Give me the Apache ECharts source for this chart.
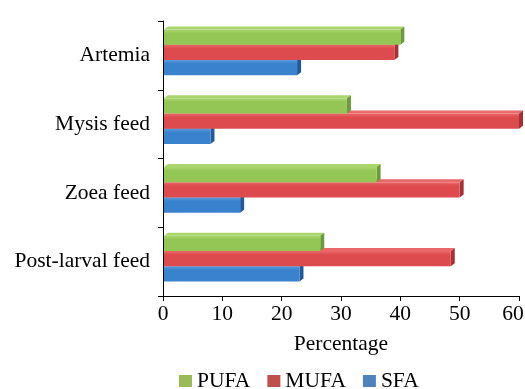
<!DOCTYPE html>
<html>
<head>
<meta charset="utf-8">
<script src="https://cdn.jsdelivr.net/npm/echarts@6/dist/echarts.min.js"></script>
<style>
  html, body { margin: 0; padding: 0; background: #fff; overflow: hidden; }
  #chart { width: 525px; height: 389px; }
</style>
</head>
<body>
<div id="chart"></div>
<script>
// Feed types, top to bottom on the chart
const categories = ['Artemia', 'Mysis feed', 'Zoea feed', 'Post-larval feed'];
const seriesNames = ['PUFA', 'MUFA', 'SFA'];
// Fatty acid composition (%), one value per feed type
const pufa = [40, 31, 36, 26.5];
const mufa = [39, 60, 50, 48.5];
const sfa  = [22.6, 8, 13, 23];
const xTicks = [0, 10, 20, 30, 40, 50, 60];

const values = [pufa, mufa, sfa];

// Face colours for each series: legend swatch, front, top, side
const palette = [
  { legend: '#9bbb59', front: '#94c656', top: '#aad66e', side: '#6d9a3a' },
  { legend: '#c0504d', front: '#dd4b4e', top: '#e9696b', side: '#a63236' },
  { legend: '#4f81bd', front: '#3a82cd', top: '#5a9ada', side: '#23599a' }
];

const chart = echarts.init(document.getElementById('chart'), null, { renderer: 'canvas', width: 525, height: 389 });

const DX = 4, DY = 3;

function makeRender(si) {
  const c = palette[si];
  return function (params, api) {
    const cat = api.value(1);
    const v = api.value(0);
    const start = api.coord([0, cat]);
    const end = api.coord([v, cat]);
    const band = api.size([0, 1])[1];
    const t = band * 0.222;
    const y0 = start[1] - 1.5 * t - 3 + si * t;
    const x0 = start[0] + 1;
    const x1 = end[0];
    return {
      type: 'group',
      children: [
        {
          type: 'polygon',
          shape: { points: [[x0, y0], [x0 + DX, y0 - DY], [x1 + DX, y0 - DY], [x1, y0]] },
          style: { fill: c.top }
        },
        {
          type: 'polygon',
          shape: { points: [[x1, y0], [x1 + DX, y0 - DY], [x1 + DX, y0 + t - DY], [x1, y0 + t]] },
          style: { fill: c.side }
        },
        {
          type: 'rect',
          shape: { x: x0, y: y0, width: x1 - x0, height: t },
          style: {
            fill: new echarts.graphic.LinearGradient(0, 0, 0, 1, [
              { offset: 0, color: c.top },
              { offset: 0.25, color: c.front },
              { offset: 1, color: c.front }
            ])
          }
        }
      ]
    };
  };
}

const series = seriesNames.map(function (name, si) {
  return {
    name: name,
    type: 'custom',
    renderItem: makeRender(si),
    encode: { x: 0, y: 1 },
    itemStyle: { color: palette[si].legend },
    z: 5 - si,
    data: values[si].map(function (v, i) { return [v, i]; })
  };
});

const font = 'Liberation Serif';
const fs = 21.5;
const xMax = xTicks[xTicks.length - 1];

chart.setOption({
  animation: false,
  backgroundColor: '#ffffff',
  grid: { left: 163, right: 6, top: 21, bottom: 93, outerBoundsMode: 'none', containLabel: false },
  xAxis: {
    type: 'value',
    min: xTicks[0],
    max: xMax,
    interval: 10,
    name: 'Percentage',
    nameLocation: 'middle',
    nameGap: 37,
    nameTextStyle: { fontFamily: font, fontSize: fs, color: '#000' },
    axisLine: { show: true, lineStyle: { color: '#000', width: 1 } },
    axisTick: { show: true, length: 5, lineStyle: { color: '#000' } },
    axisLabel: {
      fontFamily: font, fontSize: fs, color: '#000', margin: 7,
      // the last label is nudged left so it stays inside the canvas
      formatter: function (v) { return v === xMax ? '{last|' + v + '}' : String(v); },
      rich: { last: { fontFamily: font, fontSize: fs, color: '#000', padding: [0, 12, 0, 0] } }
    },
    splitLine: { show: false }
  },
  yAxis: {
    type: 'category',
    data: categories,
    inverse: true,
    axisLine: { show: true, lineStyle: { color: '#000', width: 1 } },
    axisTick: { show: true, length: 5, lineStyle: { color: '#000' } },
    axisLabel: { fontFamily: font, fontSize: fs, color: '#000', margin: 13 },
    splitLine: { show: false }
  },
  legend: {
    data: seriesNames,
    left: 179,
    top: 370,
    padding: 0,
    icon: 'rect',
    itemWidth: 13,
    itemHeight: 12,
    itemGap: 17,
    textStyle: { fontFamily: font, fontSize: fs, color: '#000' }
  },
  series: series
});
</script>
</body>
</html>
